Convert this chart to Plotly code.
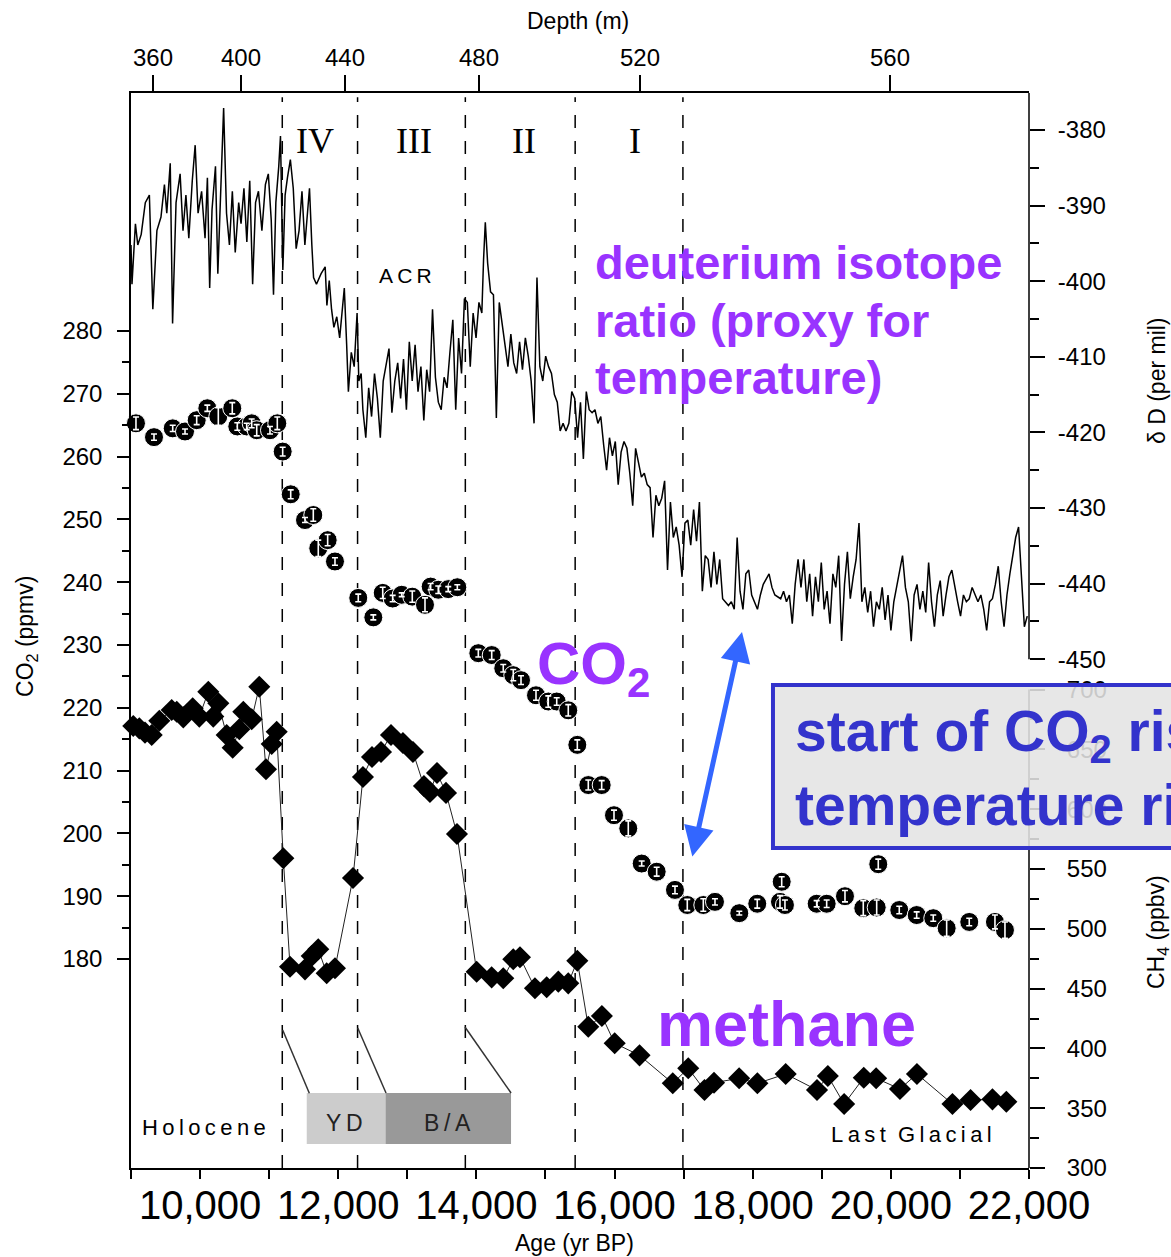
import plotly.graph_objects as go

# ---------------- data ----------------
dD_age = [9000, 9014, 9064, 9098, 9148, 9207, 9266, 9316, 9375, 9434, 9484, 9518, 9568, 9602, 9652, 9711,
          9753, 9795, 9837, 9887, 9929, 9971, 10022, 10072, 10106, 10139, 10173, 10223, 10257, 10299, 10341,
          10383, 10425, 10467, 10509, 10559, 10593, 10635, 10677, 10719, 10761, 10803, 10845, 10895, 10946,
          10988, 11030, 11063, 11097, 11139, 11164, 11198, 11231, 11265, 11307, 11349, 11391, 11433, 11475,
          11517, 11559, 11584, 11618, 11643, 11685, 11752, 11811, 11836, 11870, 11903, 11937, 11979, 12021,
          12063, 12088, 12122, 12147, 12189, 12231, 12273, 12298, 12332, 12357, 12399, 12441, 12483, 12525,
          12567, 12609, 12651, 12693, 12735, 12777, 12819, 12861, 12903, 12945, 12987, 13029, 13071, 13113,
          13155, 13197, 13239, 13281, 13323, 13365, 13407, 13449, 13491, 13533, 13575, 13617, 13659, 13701,
          13743, 13785, 13827, 13869, 13911, 13953, 13995, 14037, 14079, 14104, 14129, 14163, 14205, 14247,
          14289, 14331, 14373, 14415, 14457, 14499, 14541, 14583, 14625, 14667, 14709, 14751, 14793, 14835,
          14877, 14919, 14961, 15003, 15045, 15087, 15129, 15171, 15213, 15255, 15297, 15339, 15381, 15423,
          15465, 15507, 15549, 15591, 15633, 15675, 15717, 15759, 15801, 15843, 15885, 15927, 15969, 16011,
          16053, 16095, 16137, 16179, 16221, 16263, 16305, 16347, 16389, 16431, 16473, 16515, 16557, 16599,
          16641, 16683, 16725, 16767, 16809, 16851, 16893, 16935, 16977, 17019, 17061, 17103, 17145, 17187,
          17229, 17271, 17313, 17355, 17397, 17439, 17481, 17523, 17565, 17649, 17691, 17733, 17775, 17817,
          17859, 17901, 17943, 17985, 18069, 18111, 18153, 18237, 18279, 18321, 18405, 18447, 18489, 18531,
          18573, 18615, 18657, 18699, 18741, 18783, 18825, 18867, 18909, 18951, 18993, 19035, 19077, 19119,
          19161, 19203, 19245, 19287, 19329, 19371, 19413, 19455, 19497, 19539, 19581, 19623, 19665, 19707,
          19749, 19791, 19833, 19875, 19917, 19959, 20001, 20043, 20085, 20127, 20169, 20211, 20253, 20295,
          20337, 20379, 20421, 20463, 20505, 20547, 20589, 20631, 20673, 20715, 20757, 20799, 20841, 20883,
          20925, 20967, 21009, 21051, 21093, 21135, 21177, 21219, 21261, 21303, 21345, 21387, 21429, 21471,
          21513, 21555, 21597, 21639, 21681, 21723, 21765, 21807, 21849, 21891, 21933, 21975]
dD_val = [-395.2, -400.4, -392.4, -395.2, -393.8, -389.6, -388.6, -403.7, -393.3, -391.5, -387.2, -391.0,
          -384.4, -405.6, -389.6, -385.8, -393.3, -388.6, -394.3, -386.7, -382.0, -391.0, -388.1, -394.3,
          -386.3, -400.9, -390.5, -384.8, -399.0, -387.2, -377.1, -391.0, -395.2, -388.1, -396.2, -389.6,
          -392.4, -387.7, -394.8, -386.7, -400.4, -389.6, -388.1, -393.3, -387.2, -385.8, -391.9, -401.8,
          -389.6, -384.8, -380.8, -398.5, -388.6, -386.3, -383.9, -387.7, -395.7, -393.3, -388.1, -395.2,
          -391.0, -387.7, -395.2, -399.5, -400.4, -399.0, -398.1, -403.2, -399.9, -403.7, -406.1, -404.7,
          -407.5, -403.7, -400.9, -408.4, -414.6, -409.4, -411.3, -404.2, -413.2, -412.2, -417.0, -420.7,
          -414.1, -417.9, -412.2, -415.5, -420.7, -413.2, -411.3, -408.9, -417.4, -413.2, -410.8, -415.5,
          -410.3, -417.0, -408.0, -413.2, -408.4, -414.6, -411.3, -418.4, -411.7, -414.6, -403.7, -412.7,
          -416.0, -417.0, -412.7, -414.1, -409.4, -405.1, -417.0, -407.5, -412.2, -402.3, -402.8, -411.3,
          -404.2, -407.5, -402.8, -404.2, -397.1, -392.2, -397.6, -401.4, -401.8, -418.1, -402.8, -405.6,
          -408.4, -411.3, -407.0, -410.8, -412.2, -408.0, -411.7, -407.5, -409.9, -413.2, -418.8, -399.5,
          -411.3, -413.2, -409.9, -411.3, -412.2, -415.0, -416.0, -419.8, -418.8, -419.8, -418.8, -414.6,
          -415.5, -420.7, -416.0, -423.5, -414.6, -417.0, -417.4, -417.0, -418.8, -417.9, -421.7, -425.0,
          -420.7, -423.1, -421.2, -426.9, -422.6, -421.2, -422.1, -425.4, -429.7, -422.1, -424.0, -425.9,
          -425.4, -426.9, -427.3, -433.9, -428.3, -429.7, -428.7, -426.4, -438.2, -429.2, -433.9, -432.5,
          -434.9, -439.1, -432.0, -431.6, -434.9, -430.2, -434.4, -429.2, -441.0, -436.3, -436.8, -440.5,
          -435.8, -440.1, -436.8, -442.0, -442.9, -442.4, -443.4, -433.9, -441.0, -443.4, -438.7, -438.2,
          -441.5, -443.4, -441.5, -440.1, -438.7, -440.5, -441.5, -442.0, -441.0, -442.4, -441.5, -445.3,
          -440.1, -436.8, -440.5, -436.8, -442.4, -438.7, -444.3, -439.1, -442.4, -437.2, -443.4, -441.0,
          -445.3, -438.7, -440.5, -436.3, -447.6, -440.1, -435.8, -442.0, -439.1, -436.8, -432.0, -442.4,
          -440.5, -443.8, -441.0, -445.7, -442.4, -443.4, -440.5, -444.8, -441.5, -446.2, -442.4, -440.5,
          -438.2, -436.3, -440.5, -442.4, -447.6, -441.5, -440.1, -443.4, -441.0, -443.8, -437.2, -442.4,
          -445.7, -441.5, -439.6, -444.3, -441.5, -439.1, -438.2, -440.5, -442.4, -444.3, -441.5, -442.4,
          -442.0, -440.5, -441.5, -442.4, -441.5, -443.4, -446.2, -442.4, -442.0, -440.1, -437.7, -442.4,
          -445.7, -441.5, -438.7, -436.3, -433.9, -432.5, -439.1, -445.7, -444.3]

co2_age = [9072, 9333, 9604, 9782, 9951, 10105, 10264, 10466, 10539, 10675, 10747, 10820, 11012, 11118,
           11196, 11312, 11519, 11639, 11711, 11847, 11953, 12290, 12508, 12644, 12788, 12919, 13072, 13256,
           13338, 13448, 13593, 13724, 14028, 14222, 14389, 14534, 14646, 14863, 15041, 15163, 15330, 15461,
           15620, 15814, 15992, 16199, 16393, 16610, 16875, 17053, 17285, 17454, 17806, 18066, 18395, 18420,
           18467, 18926, 19071, 19336, 19601, 19795, 19818, 20122, 20374, 20614, 20808, 21135, 21507, 21652]
co2_val = [265.3, 263.1, 264.5, 264.0, 265.8, 267.7, 266.4, 267.7, 264.8, 264.8, 265.3, 264.2, 264.2, 265.3,
           260.8, 254.0, 249.9, 250.7, 245.4, 246.7, 243.3, 237.5, 234.4, 238.3, 237.4, 238.0, 237.7, 236.4,
           239.3, 238.8, 238.9, 239.2, 228.7, 228.4, 226.3, 225.2, 224.4, 222.0, 221.0, 221.0, 219.6, 214.1,
           207.7, 207.7, 202.9, 200.8, 195.2, 193.9, 191.0, 188.6, 188.6, 189.1, 187.3, 188.8, 189.1, 192.3,
           188.6, 188.8, 188.8, 190.0, 188.1, 188.2, 195.1, 187.8, 187.0, 186.5, 184.9, 185.9, 185.9, 184.6]
co2_err = [1.0, 0.5, 0.5, 0.4, 0.7, 0.5, 1.4, 0.9, 0.6, 0.5, 0.7, 0.9, 0.6, 1.0,
           0.7, 0.7, 0.4, 1.0, 1.3, 0.9, 0.6, 0.6, 0.4, 0.9, 0.5, 0.3, 0.9, 1.1,
           0.5, 0.6, 0.4, 0.4, 0.6, 0.7, 0.6, 0.9, 0.7, 0.8, 0.9, 0.6, 0.9, 0.8,
           0.8, 0.7, 0.8, 1.2, 0.4, 0.7, 0.6, 0.9, 1.0, 0.5, 0.3, 0.7, 1.0, 0.8,
           0.8, 0.5, 0.6, 0.9, 1.2, 1.2, 0.8, 0.6, 0.5, 0.5, 1.3, 0.6, 1.1, 1.3]

ch4_age = [9033, 9120, 9203, 9300, 9410, 9589, 9662, 9757, 9893, 9989, 10119, 10191, 10264, 10385, 10472,
           10568, 10626, 10747, 10857, 10954, 11037, 11109, 11205, 11302, 11519, 11616, 11711, 11833, 11953,
           12214, 12358, 12489, 12619, 12764, 12937, 13082, 13241, 13328, 13430, 13560, 13719, 14004, 14221,
           14389, 14534, 14631, 14848, 15018, 15186, 15330, 15461, 15620, 15817, 16002, 16362, 16843, 17067,
           17302, 17440, 17804, 18068, 18478, 18931, 19088, 19324, 19608, 19787, 20132, 20378, 20892, 21154,
           21471, 21672]
ch4_val = [669.6, 667.6, 664.0, 662.0, 674.0, 682.9, 681.5, 676.8, 684.4, 677.4, 698.2, 677.4, 688.5, 662.0,
           651.4, 666.8, 681.5, 675.2, 702.4, 633.4, 654.5, 664.8, 559.0, 468.3, 466.1, 477.3, 482.9, 462.8,
           467.0, 542.5, 626.9, 643.6, 647.8, 662.0, 655.4, 647.8, 619.4, 614.4, 630.3, 613.6, 579.3, 464.1,
           459.4, 458.6, 474.5, 476.2, 450.3, 451.1, 455.8, 454.4, 473.3, 418.1, 427.1, 404.3, 394.2, 370.8,
           383.4, 365.2, 371.3, 375.0, 370.8, 378.6, 365.2, 376.9, 353.5, 375.5, 375.0, 366.1, 378.6, 353.5,
           356.9, 357.4, 355.4]

age_tick_vals = [9000, 10000, 11000, 12000, 13000, 14000, 15000, 16000, 17000, 18000, 19000, 20000, 21000, 22000]
age_tick_text = ["", "10,000", "", "12,000", "", "14,000", "", "16,000", "", "18,000", "", "20,000", "", "22,000"]
depth_tick_ages = [9318, 10592, 12098, 14038, 16368, 19987]
depth_tick_text = ["360", "400", "440", "480", "520", "560"]
co2_ticks = [180, 190, 200, 210, 220, 230, 240, 250, 260, 270, 280]
co2_minor = [185, 195, 205, 215, 225, 235, 245, 255, 265, 275]
dD_ticks = [-380, -390, -400, -410, -420, -430, -440, -450]
dD_tick_text = ["-380", "-390", "-400", "-410", "-420", "-430", "-440", "-450"]
dD_minor = [-385, -395, -405, -415, -425, -435, -445]
ch4_ticks = [300, 350, 400, 450, 500, 550, 600, 650, 700]
ch4_minor = [325, 375, 425, 475, 525, 575, 625, 675]
stage_ages = [11190, 12280, 13840, 15430, 16990]
stage_names = ["IV", "III", "II", "I"]

# ---------------- figure ----------------
SANS = "Liberation Sans, Arial, Helvetica, sans-serif"
SERIF = "Liberation Serif, Times New Roman, serif"
PURPLE = "#9933ff"
BLUE = "#3333cc"

fig = go.Figure()

fig.add_trace(go.Scatter(x=dD_age, y=dD_val, mode="lines", yaxis="y2",
                         line=dict(color="black", width=1.5), showlegend=False, hoverinfo="skip"))
fig.add_trace(go.Scatter(x=ch4_age, y=ch4_val, mode="lines+markers", yaxis="y3",
                         line=dict(color="#222222", width=1),
                         marker=dict(symbol="diamond", size=17, color="black"),
                         showlegend=False, cliponaxis=False, hoverinfo="skip"))
fig.add_trace(go.Scatter(x=co2_age, y=co2_val, mode="markers", yaxis="y",
                         marker=dict(symbol="circle", size=19, color="black",
                                     line=dict(color="white", width=1)),
                         showlegend=False, cliponaxis=False, hoverinfo="skip"))
fig.add_trace(go.Scatter(x=co2_age, y=co2_val, mode="markers", yaxis="y",
                         marker=dict(size=2, color="rgba(0,0,0,0)"),
                         error_y=dict(type="data", array=co2_err, color="white", thickness=1.6, width=3),
                         showlegend=False, cliponaxis=False, hoverinfo="skip"))
fig.add_trace(go.Scatter(x=[depth_tick_ages[0]], y=[co2_ticks[0]], xaxis="x2", yaxis="y",
                         mode="markers", marker=dict(size=1, color="rgba(0,0,0,0)"),
                         showlegend=False, hoverinfo="skip"))

tickfont = dict(family=SANS, size=24, color="black")
fig.update_layout(
    width=1171, height=1257, autosize=False,
    margin=dict(l=131, r=142, t=93, b=89),
    paper_bgcolor="white", plot_bgcolor="white",
    showlegend=False,
    xaxis=dict(range=[9000, 22000], domain=[0, 1], anchor="y", side="bottom",
               showline=True, linecolor="black", linewidth=1.5, mirror=False,
               ticks="outside", ticklen=9, tickwidth=1.5, tickcolor="black",
               tickmode="array", tickvals=age_tick_vals, ticktext=age_tick_text,
               tickfont=dict(family=SANS, size=40, color="black"), ticklabelstandoff=-8,
               showgrid=False, zeroline=False),
    xaxis2=dict(range=[9000, 22000], overlaying="x", anchor="y", side="top",
                showline=True, linecolor="black", linewidth=1.5,
                ticks="outside", ticklen=16, tickwidth=1.5, tickcolor="black",
                tickmode="array", tickvals=depth_tick_ages, ticktext=depth_tick_text,
                tickfont=tickfont, showgrid=False, zeroline=False),
    yaxis=dict(range=[146.72, 317.9], domain=[0, 1], anchor="x", side="left",
               showline=True, linecolor="black", linewidth=1.5,
               ticks="outside", ticklen=12, tickwidth=1.5, tickcolor="black",
               tickmode="array", tickvals=co2_ticks, tickfont=tickfont, ticklabelstandoff=10,
               minor=dict(tickmode="array", tickvals=co2_minor, ticks="outside", ticklen=7,
                          tickwidth=1.5, tickcolor="black", showgrid=False),
               showgrid=False, zeroline=False),
    yaxis2=dict(range=[-517.3, -375.1], overlaying="y", anchor="x", side="right",
                showline=False,
                ticks="outside", ticklen=15, tickwidth=1.5, tickcolor="black",
                tickmode="array", tickvals=dD_ticks, ticktext=dD_tick_text, tickfont=tickfont,
                ticklabelstandoff=8,
                minor=dict(tickmode="array", tickvals=dD_minor, ticks="outside", ticklen=9,
                           tickwidth=1.5, tickcolor="black", showgrid=False),
                showgrid=False, zeroline=False),
    yaxis3=dict(range=[300.0, 1198.8], overlaying="y", anchor="x", side="right",
                showline=False,
                ticks="outside", ticklen=15, tickwidth=1.5, tickcolor="black",
                tickmode="array", tickvals=ch4_ticks, tickfont=tickfont, ticklabelstandoff=17,
                minor=dict(tickmode="array", tickvals=ch4_minor, ticks="outside", ticklen=9,
                           tickwidth=1.5, tickcolor="black", showgrid=False),
                showgrid=False, zeroline=False),
)

shapes = []
# stage boundaries
for a in stage_ages:
    shapes.append(dict(type="line", xref="x", yref="paper", x0=a, x1=a, y0=0, y1=0.996,
                       line=dict(color="black", width=1.5, dash="13px,13px"), layer="below"))
# right axis lines
shapes.append(dict(type="line", xref="paper", yref="y2", x0=1, x1=1, y0=dD_ticks[-1], y1=-375.1,
                   line=dict(color="black", width=1.5), layer="above"))
shapes.append(dict(type="line", xref="paper", yref="y3", x0=1, x1=1, y0=ch4_ticks[0], y1=ch4_ticks[-1],
                   line=dict(color="black", width=1.5), layer="above"))
# climate period boxes
shapes.append(dict(type="rect", xref="paper", yref="paper", x0=0.1957, x1=0.2834, y0=0.0223, y1=0.0698,
                   fillcolor="#cccccc", line=dict(width=0), layer="above"))
shapes.append(dict(type="rect", xref="paper", yref="paper", x0=0.2834, x1=0.4232, y0=0.0223, y1=0.0698,
                   fillcolor="#999999", line=dict(width=0), layer="above"))
for (x0, y0, x1, y1) in [(0.1689, 0.1284, 0.1986, 0.0695), (0.2525, 0.1302, 0.2840, 0.0698),
                         (0.3719, 0.1312, 0.4232, 0.0698)]:
    shapes.append(dict(type="line", xref="paper", yref="paper", x0=x0, y0=y0, x1=x1, y1=y1,
                       line=dict(color="#333333", width=1.5), layer="above"))
# callout box
shapes.append(dict(type="rect", xref="paper", yref="paper", x0=0.7149, x1=1.3, y0=0.2977, y1=0.4493,
                   fillcolor="rgba(228,228,228,0.88)", line=dict(color=BLUE, width=4), layer="above"))
fig.update_layout(shapes=shapes)

ann = []
def txt(x, y, s, size, color="black", family=SANS, xanchor="center", yanchor="middle", angle=0, bold=False):
    if bold:
        s = "<b>" + s + "</b>"
    ann.append(dict(xref="paper", yref="paper", x=x, y=y, text=s, showarrow=False,
                    font=dict(family=family, size=size, color=color),
                    xanchor=xanchor, yanchor=yanchor, textangle=angle))

# axis titles
txt(0.4978, 1.067, "Depth (m)", 23)
txt(0.4944, -0.0698, "Age (yr BP)", 23)
txt(-0.1158, 0.494, "CO<sub>2</sub> (ppmv)", 23, angle=-90)
txt(1.1425, 0.733, "δ D (per mil)", 23, angle=-90)
txt(1.1425, 0.2195, "CH<sub>4</sub> (ppbv)", 23, angle=-90)
# stage numerals
for name, xp in zip(stage_names, [0.2049, 0.3151, 0.4376, 0.5608]):
    txt(xp, 0.9558, name, 36, family=SERIF)
SP = "\u2009"
txt(0.3062, 0.8298, SP.join("ACR"), 21)
txt(0.0813, 0.0381, SP.join("Holocene"), 22)
txt(0.8697, 0.0307, SP.join("Last") + "  " + SP.join("Glacial"), 22)
txt(0.2383, 0.0419, SP.join("YD"), 23, color="#222222")
txt(0.3519, 0.0419, SP.join("B/A"), 23, color="#222222")
# purple labels
txt(0.5145, 0.8419, "deuterium isotope", 47, color=PURPLE, xanchor="left", bold=True)
txt(0.5145, 0.7888, "ratio (proxy for", 47, color=PURPLE, xanchor="left", bold=True)
txt(0.5145, 0.7349, "temperature)", 47, color=PURPLE, xanchor="left", bold=True)
txt(0.4500, 0.4651, "CO<sub>2</sub>", 60, color=PURPLE, xanchor="left", bold=True)
txt(0.5840, 0.134, "methane", 63, color=PURPLE, xanchor="left", bold=True)
# callout text
txt(0.7370, 0.4028, "start of CO<sub>2</sub> rise lags", 57, color=BLUE, xanchor="left", bold=True)
txt(0.7370, 0.3377, "temperature rise", 57, color=BLUE, xanchor="left", bold=True)
# double arrow
ann.append(dict(xref="paper", yref="paper", x=0.6804, y=0.4986, ax=-50, ay=226, axref="pixel", ayref="pixel",
                text="", showarrow=True, arrowhead=2, startarrowhead=2, arrowside="end+start",
                arrowwidth=5, arrowsize=1.2, startarrowsize=1.2, arrowcolor="#3366ff",
                standoff=0, startstandoff=0))
fig.update_layout(annotations=ann)

fig.write_html("out.html")
